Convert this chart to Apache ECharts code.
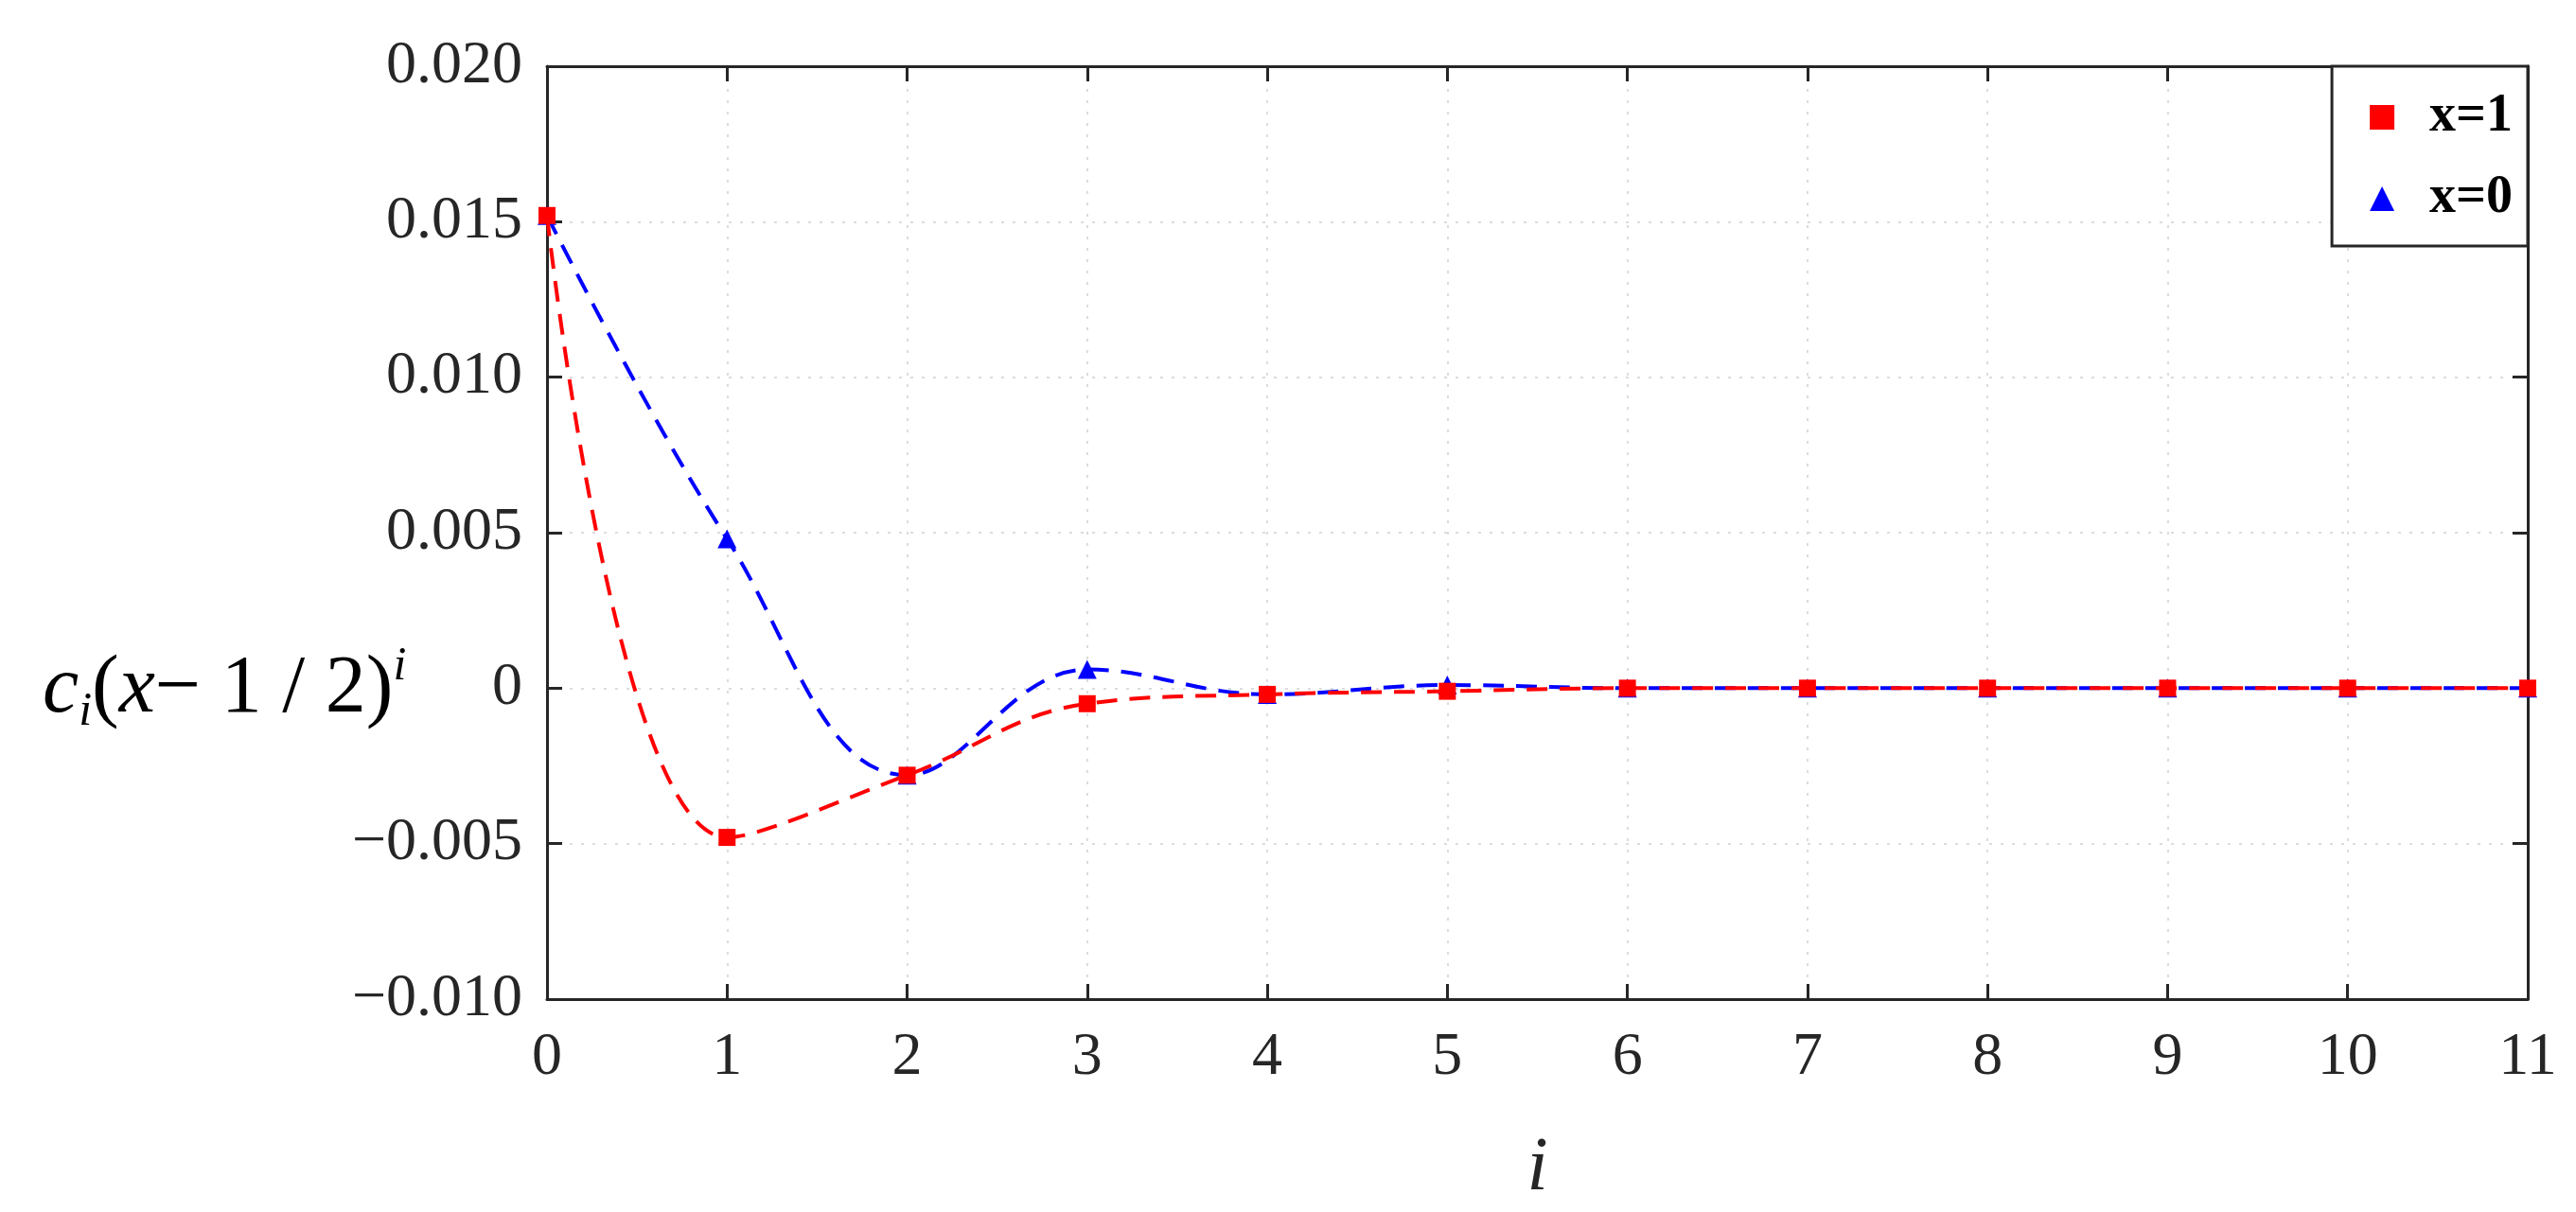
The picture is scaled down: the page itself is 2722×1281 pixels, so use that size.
<!DOCTYPE html>
<html>
<head>
<meta charset="utf-8">
<script src="https://cdn.jsdelivr.net/npm/echarts@6/dist/echarts.min.js"></script>
<style>
html, body { margin: 0; padding: 0; background: #fff; }
#main { width: 2722px; height: 1281px; }
</style>
</head>
<body>
<div id="main"></div>
<script>
// 数据
var idx = [0, 1, 2, 3, 4, 5, 6, 7, 8, 9, 10, 11]
var valX1 = [0.0152, -0.0048, -0.0028, -0.0005, -0.0002, -0.0001, 0, 0, 0, 0, 0, 0]
var valX0 = [0.0152, 0.0048, -0.0028, 0.0006, -0.0002, 0.0001, 0, 0, 0, 0, 0, 0]

var FONT = 'Liberation Serif'
function pairs(v) {
    let out = []
    for (let i = 0; i < idx.length; i++) out.push([idx[i], v[i]])
    return out
}

var chart = echarts.init(document.getElementById('main'))
var lineSty = { show: true, onZero: false, lineStyle: { color: '#262626', width: 3 } }
var tickSty = { show: true, inside: true, length: 16, lineStyle: { color: '#262626', width: 3 } }
var axisCommon = {
    axisLine: lineSty,
    axisTick: tickSty,
    splitLine: { show: true, lineStyle: { color: '#dcdcdc', type: [3, 9], width: 2 } },
    axisLabel: { fontFamily: FONT, fontSize: 64, color: '#262626' }
}
var option = {
    animation: false,
    grid: { left: 578, right: 51, top: 70, bottom: 203 },
    legend: {
        right: 51, top: 70, orient: 'vertical',
        backgroundColor: '#fff', borderColor: '#262626', borderWidth: 3, borderRadius: 0,
        padding: [26, 16, 22, 40], itemGap: 30, itemWidth: 26, itemHeight: 26,
        textStyle: { fontFamily: FONT, fontSize: 56, color: '#000', fontWeight: 'bold', padding: [0, 0, 0, 32] },
        data: [
            { name: 'x=1', icon: 'rect', itemStyle: { color: '#ff0000' } },
            { name: 'x=0', icon: 'triangle', itemStyle: { color: '#0000ff' } }
        ]
    },
    xAxis: [
        Object.assign({}, axisCommon, {
            type: 'value', min: 0, max: 11, interval: 1,
            name: 'i', nameLocation: 'center', nameGap: 140,
            nameTextStyle: { fontFamily: FONT, fontSize: 80, fontStyle: 'italic', color: '#262626' },
            axisLabel: Object.assign({}, axisCommon.axisLabel, { margin: 30 })
        }),
        { type: 'value', position: 'top', min: 0, max: 11, interval: 1,
          axisLine: lineSty, axisTick: tickSty,
          axisLabel: { show: false }, splitLine: { show: false } }
    ],
    yAxis: [
        Object.assign({}, axisCommon, {
            type: 'value', min: -0.01, max: 0.02, interval: 0.005,
            axisLabel: Object.assign({}, axisCommon.axisLabel, {
                margin: 26,
                formatter: function (v) {
                    if (Math.abs(v) < 1e-9) return '0'
                    let s = Math.abs(v).toFixed(3)
                    return (v < 0 ? '\u2212' : '') + s
                }
            })
        }),
        { type: 'value', position: 'right', min: -0.01, max: 0.02, interval: 0.005,
          axisLine: lineSty, axisTick: tickSty,
          axisLabel: { show: false }, splitLine: { show: false } }
    ],
    graphic: [{
        type: 'text', left: 45, top: 680,
        style: {
            rich: {
                n: { fontFamily: FONT, fontSize: 86, fontStyle: 'italic', fill: '#000' },
                r: { fontFamily: FONT, fontSize: 86, fill: '#000' },
                sub: { fontFamily: FONT, fontSize: 50, fontStyle: 'italic', fill: '#000', padding: [48, 0, 0, 0] },
                sup: { fontFamily: FONT, fontSize: 50, fontStyle: 'italic', fill: '#000', padding: [0, 0, 48, 0] }
            },
            text: '{n|c}{sub|i}{r|(}{n|x}{r|\u2212 1 / 2)}{sup|i}'
        }
    }],
    series: [
        {
            name: 'x=1', type: 'line', data: pairs(valX1), smooth: 0.4,
            symbol: 'rect', symbolSize: 18, z: 3,
            itemStyle: { color: '#ff0000' },
            lineStyle: { color: '#ff0000', width: 4, type: [22, 13] }
        },
        {
            name: 'x=0', type: 'line', data: pairs(valX0), smooth: 0.4,
            symbol: 'triangle', symbolSize: 20, z: 2,
            itemStyle: { color: '#0000ff' },
            lineStyle: { color: '#0000ff', width: 4, type: [22, 13] }
        }
    ]
}
option && chart.setOption(option)
</script>
</body>
</html>
